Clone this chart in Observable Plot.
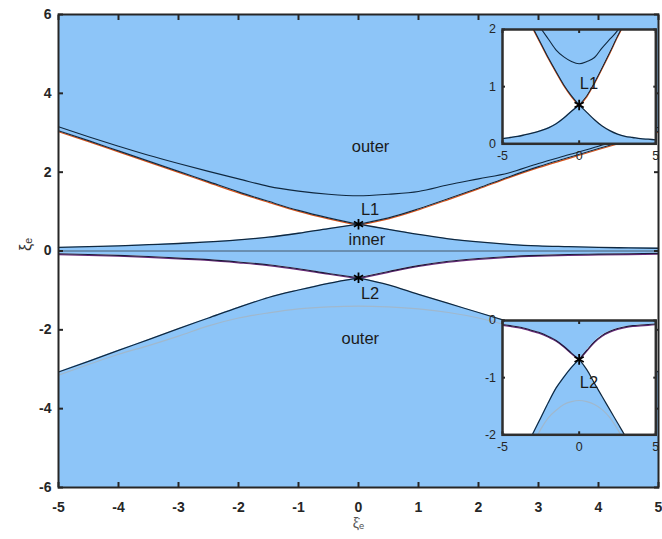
<!DOCTYPE html>
<html>
<head>
<meta charset="utf-8">
<script src="https://cdn.jsdelivr.net/npm/d3@7"></script>
<script src="https://cdn.jsdelivr.net/npm/@observablehq/plot@0.6"></script>
<style>
  body { margin: 0; background: #fff; }
  #wrap { position: relative; width: 662px; height: 539px; font-family: "Liberation Sans", Arial, sans-serif; }
  #wrap svg { position: absolute; overflow: visible; }
</style>
</head>
<body>
<div id="wrap"></div>
<script>
// Sample positions along the horizontal axis
const xs = [-5, -4.5, -4, -3.5, -3, -2.5, -2, -1.5, -1, -0.5, 0, 0.5, 1, 1.5, 2, 2.5, 3, 3.5, 4, 4.5, 5];

// Upper forbidden region: top edge (through L1) and bottom edge
const upperTop    = [3.05, 2.80, 2.54, 2.28, 2.02, 1.76, 1.50, 1.26, 1.03, 0.84, 0.68, 0.84, 1.07, 1.33, 1.60, 1.88, 2.14, 2.37, 2.60, 2.82, 3.04];
const upperBottom = [0.09, 0.11, 0.13, 0.16, 0.19, 0.23, 0.28, 0.35, 0.45, 0.57, 0.68, 0.55, 0.42, 0.31, 0.23, 0.17, 0.13, 0.11, 0.09, 0.08, 0.07];
// Contour inside the upper outer region
const upperOuter  = [3.15, 2.90, 2.66, 2.43, 2.22, 2.02, 1.83, 1.64, 1.52, 1.44, 1.40, 1.44, 1.51, 1.68, 1.83, 1.98, 2.22, 2.44, 2.66, 2.90, 3.14];

// Lower forbidden region: bottom edge (through L2) and top edge
const lowerBottom = [-3.07, -2.80, -2.52, -2.25, -1.97, -1.70, -1.43, -1.18, -0.99, -0.82, -0.68, -0.86, -1.10, -1.33, -1.56, -1.79, -2.02, -2.28, -2.54, -2.80, -3.07];
const lowerTop    = [-0.07, -0.09, -0.11, -0.14, -0.18, -0.22, -0.28, -0.35, -0.45, -0.57, -0.68, -0.52, -0.37, -0.26, -0.19, -0.14, -0.11, -0.09, -0.08, -0.07, -0.06];
// Contour inside the lower outer region
const lowerOuter  = [-3.15, -2.88, -2.62, -2.40, -2.16, -1.90, -1.70, -1.57, -1.47, -1.42, -1.40, -1.42, -1.47, -1.56, -1.70, -1.90, -2.14, -2.38, -2.62, -2.88, -3.14];

// Collinear points
const pointNames = ["L1", "L2"];
const pointX = [0, 0];
const pointY = [0.68, -0.68];
const pointLabelX = [0.04, 0.04];
const pointLabelY = [1.05, -1.08];

// Region names
const regionNames = ["outer", "inner", "outer"];
const regionX = [0.2, 0.14, 0.03];
const regionY = [2.64, 0.28, -2.22];

// Axis ticks
const xTicks = [-5, -4, -3, -2, -1, 0, 1, 2, 3, 4, 5];
const yTicks = [-6, -4, -2, 0, 2, 4, 6];
const insetXTicks = [-5, 0, 5];
const insetUpperTicks = [0, 1, 2];
const insetLowerTicks = [-2, -1, 0];

const BLUE = "#8dc5f8";
const DARK = "#10283f";
const ORANGE = "#d9541a";
const PURPLE = "#6a2a78";
const PALE = "#a0b8cd";
const FONT = "'Liberation Sans', Arial, sans-serif";

const rows = xs.map((x, i) => ({
  x, fU: upperTop[i], gU: upperBottom[i], hU: upperOuter[i],
  fL: lowerBottom[i], gL: lowerTop[i], hL: lowerOuter[i]
}));
// The forbidden-region edges meet at the saddle points, so each half is its own branch
const branches = rows.flatMap(d => d.x === 0
  ? [{...d, side: "left"}, {...d, side: "right"}]
  : [{...d, side: d.x < 0 ? "left" : "right"}]);

const points = pointNames.map((n, i) => ({name: n, x: pointX[i], y: pointY[i], lx: pointLabelX[i], ly: pointLabelY[i]}));
const regions = regionNames.map((n, i) => ({name: n, x: regionX[i], y: regionY[i]}));

const curve = "monotone-x";

function regionMarks(clip, pointsShown) {
  return [
    Plot.frame({fill: BLUE, stroke: null}),
    Plot.areaY(branches, {x: "x", y1: "gU", y2: "fU", z: "side", fill: "white", curve, clip}),
    Plot.areaY(branches, {x: "x", y1: "fL", y2: "gL", z: "side", fill: "white", curve, clip}),
    Plot.ruleY([0], {stroke: "#46596a", strokeWidth: 1, clip}),
    Plot.line(rows, {x: "x", y: "hL", stroke: PALE, strokeWidth: 1.2, curve, clip}),
    Plot.line(rows, {x: "x", y: "hU", stroke: DARK, strokeWidth: 1.1, curve, clip}),
    Plot.line(branches, {x: "x", y: "fU", z: "side", stroke: ORANGE, strokeWidth: 1.2, dy: 1, curve, clip}),
    Plot.line(branches, {x: "x", y: "fU", z: "side", stroke: DARK, strokeWidth: 1.1, curve, clip}),
    Plot.line(branches, {x: "x", y: "gU", z: "side", stroke: DARK, strokeWidth: 1.3, curve, clip}),
    Plot.line(branches, {x: "x", y: "gL", z: "side", stroke: PURPLE, strokeWidth: 1.2, dy: 0.8, curve, clip}),
    Plot.line(branches, {x: "x", y: "gL", z: "side", stroke: "#1e1a3a", strokeWidth: 1.1, curve, clip}),
    Plot.line(branches, {x: "x", y: "fL", z: "side", stroke: DARK, strokeWidth: 1.2, curve, clip}),
    Plot.dot(pointsShown, {x: "x", y: "y", symbol: "asterisk", r: 5, stroke: "#000", strokeWidth: 1.8}),
    Plot.text(pointsShown, {x: "lx", y: "ly", text: "name", textAnchor: "start", fontSize: 16.5, fill: "#1b1b1b", fontWeight: "normal"})
  ];
}

// Main chart
const main = Plot.plot({
  width: 662, height: 539,
  marginLeft: 58, marginRight: 4, marginTop: 14, marginBottom: 52,
  x: {domain: [-5, 5]},
  y: {domain: [-6, 6]},
  style: {fontFamily: FONT, fontSize: "14px", fontWeight: "bold", color: "#262626", background: "transparent", overflow: "visible"},
  marks: [
    ...regionMarks(false, points),
    Plot.text(regions, {x: "x", y: "y", text: "name", fontSize: 16.5, fill: "#1b1b1b", fontWeight: "normal"}),
    Plot.axisX({anchor: "bottom", ticks: xTicks, tickSize: -5, tickPadding: 20, tickFormat: d => String(d), label: null, strokeWidth: 2}),
    Plot.axisX({anchor: "top", ticks: xTicks, tickSize: -5, tickFormat: () => "", label: null, strokeWidth: 2}),
    Plot.axisY({anchor: "left", ticks: yTicks, tickSize: -5, tickPadding: 12, tickFormat: d => String(d), label: null, strokeWidth: 2}),
    Plot.axisY({anchor: "right", ticks: yTicks, tickSize: -5, tickFormat: () => "", label: null, strokeWidth: 2}),
    Plot.frame({stroke: "#262626", strokeWidth: 2}),
    Plot.text(["ξ̇ₑ"], {frameAnchor: "bottom", dy: 31, lineAnchor: "top", fontSize: 14, fontWeight: "normal", fill: "#555"}),
    Plot.text(["ξₑ"], {frameAnchor: "left", dx: -33, rotate: -90, fontSize: 16, fontWeight: "normal", fill: "#333"})
  ]
});
main.style.left = "0px";
main.style.top = "0px";

// Zoomed views around the two saddle points
function inset(yDomain, yTickValues, pointIndex, top) {
  const svg = Plot.plot({
    width: 181.3, height: 142.3,
    marginLeft: 20, marginRight: 8, marginTop: 8, marginBottom: 20,
    x: {domain: [-5, 5]},
    y: {domain: yDomain},
    style: {fontFamily: FONT, fontSize: "12.5px", color: "#262626", background: "transparent", overflow: "visible"},
    marks: [
      ...regionMarks(true, [points[pointIndex]]),
      Plot.axisX({anchor: "bottom", ticks: insetXTicks, tickSize: -3, tickPadding: 10, tickFormat: d => String(d), label: null, strokeWidth: 2}),
      Plot.axisX({anchor: "top", ticks: insetXTicks, tickSize: -3, tickFormat: () => "", label: null, strokeWidth: 2}),
      Plot.axisY({anchor: "left", ticks: yTickValues, tickSize: -3, tickPadding: 9.5, tickFormat: d => String(d), label: null, strokeWidth: 2}),
      Plot.axisY({anchor: "right", ticks: yTickValues, tickSize: -3, tickFormat: () => "", label: null, strokeWidth: 2}),
      Plot.frame({stroke: "#2e2e2e", strokeWidth: 2.5})
    ]
  });
  svg.style.left = "481.7px";
  svg.style.top = top + "px";
  return svg;
}

const wrap = document.getElementById("wrap");
wrap.appendChild(main);
wrap.appendChild(inset([0, 2], insetUpperTicks, 0, 21));
wrap.appendChild(inset([-2, 0], insetLowerTicks, 1, 312));
</script>
</body>
</html>
